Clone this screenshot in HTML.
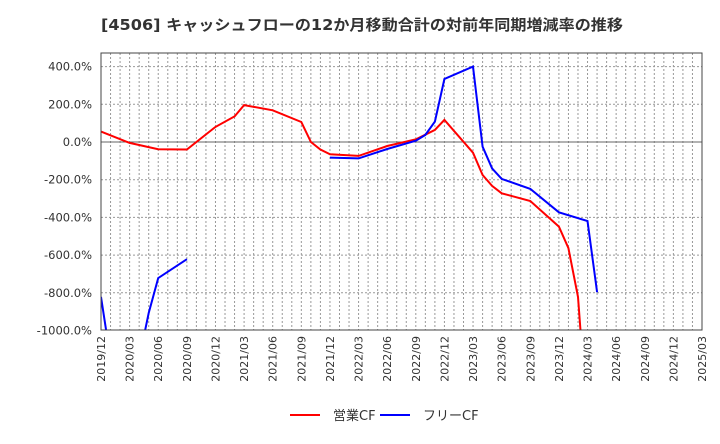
<!DOCTYPE html>
<html><head><meta charset="utf-8"><style>
body{margin:0;background:#fff;font-family:"DejaVu Sans","Noto Sans CJK JP",sans-serif;}
svg text{font-family:"DejaVu Sans","Noto Sans CJK JP",sans-serif;}
</style></head><body>
<svg id="c" width="720" height="440" xmlns="http://www.w3.org/2000/svg">
<text x="362" y="30" text-anchor="middle" font-size="15" font-weight="bold" fill="#333" textLength="522" lengthAdjust="spacingAndGlyphs">[4506]  キャッシュフローの12か月移動合計の対前年同期増減率の推移</text>
<g>
<line x1="290" y1="415" x2="320" y2="415" stroke="#f00" stroke-width="2"/>
<text x="333" y="420" font-size="13" fill="#333">営業CF</text>
<line x1="380" y1="415" x2="410" y2="415" stroke="#00f" stroke-width="2"/>
<text x="423" y="420" font-size="13" fill="#333">フリーCF</text>
</g>
</svg>
<script>
const monthIdx=[0,3,6,9,12,14,15,18,21,22,23,24,27,30,33,35,36,39,40,41,42,45,48,49,50,51];
const opCF=[55,-5,-38,-40,80,136,196,168,106,0,-40,-65,-74,-21,14,64,117,-57,-175,-233,-272,-313,-449,-563,-822,-1500];
const fcfMonthIdx=[0,1,2,3,4,5,6,9,null,24,27,30,33,34,35,36,39,40,41,42,45,48,51,52];
const freeCF=[-822,-1150,-1300,-1300,-1150,-907,-722,-622,null,-83,-87,-37,7,37,108,334,400,-25,-140,-196,-249,-373,-419,-797];
const yTicks=[400,200,0,-200,-400,-600,-800,-1000];
const xTickLabels=[];for(let y=2019;y<=2025;y++)for(const m of [3,6,9,12]){if((y===2019&&m<12)||(y===2025&&m>3))continue;xTickLabels.push(y+'/'+String(m).padStart(2,'0'));}
const L=101,R=702,T=53,B=330;
const X=m=>L+m*(R-L)/63;
const Y=v=>142-v*0.1885;
const s=document.getElementById('c');const NS='http://www.w3.org/2000/svg';
function mk(t,a){const e=document.createElementNS(NS,t);for(const k in a)e.setAttribute(k,a[k]);s.appendChild(e);return e;}
const defs=mk('defs',{});const cp=document.createElementNS(NS,'clipPath');cp.setAttribute('id','clip');defs.appendChild(cp);
const cr=document.createElementNS(NS,'rect');cr.setAttribute('x',L);cr.setAttribute('y',T);cr.setAttribute('width',R-L);cr.setAttribute('height',B-T);cp.appendChild(cr);
for(let m=1;m<63;m++){const g=mk('line',{x1:X(m),x2:X(m),y1:T,y2:B,stroke:'#999','stroke-dasharray':'2,2','stroke-width':1});

}
for(let v=400;v>-1000;v-=200){if(v===0)continue;const g=mk('line',{x1:L,x2:R,y1:Y(v),y2:Y(v),stroke:'#999','stroke-dasharray':'2,2'});

}
const z=mk('line',{x1:L,x2:R,y1:Y(0),y2:Y(0),stroke:'#666','stroke-width':1});


yTicks.forEach(v=>{const t=mk('text',{x:92,y:Y(v)+4,'text-anchor':'end','font-size':11.5,fill:'#333'});t.textContent=v.toFixed(1)+'%';

});
xTickLabels.forEach((lb,i)=>{const x=X(i*3);const t=mk('text',{x:0,y:0,transform:`translate(${x+4},${B+6}) rotate(-90)`,'text-anchor':'end','font-size':11,fill:'#333'});t.textContent=lb;

});
function series(ms,vs,col,name){let segs=[],cur=[];ms.forEach((m,i)=>{if(m===null||vs[i]===null){if(cur.length)segs.push(cur);cur=[];}else cur.push(X(m).toFixed(1)+','+Y(vs[i]).toFixed(1));});if(cur.length)segs.push(cur);
segs.forEach(sg=>{const p=mk('polyline',{points:sg.join(' '),fill:'none',stroke:col,'stroke-width':2,'clip-path':'url(#clip)'});

});}
series(monthIdx,opCF,'#f00','operating-cf-line');
series(fcfMonthIdx,freeCF,'#00f','free-cf-line');
const f=mk('rect',{x:L,y:T,width:R-L,height:B-T,fill:'none',stroke:'#444','stroke-width':1});


</script>
</body></html>
